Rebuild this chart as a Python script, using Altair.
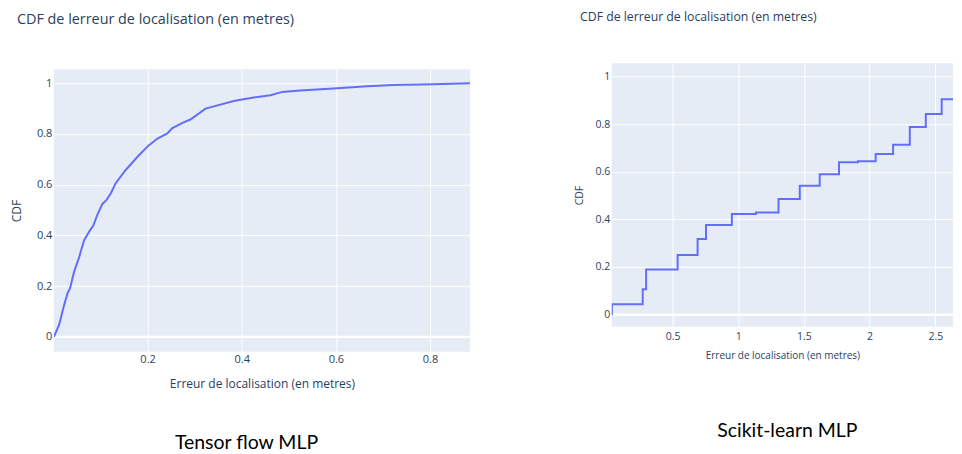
import altair as alt
import pandas as pd

# ---- data ----
tf_err = [0.001, 0.012, 0.022, 0.030, 0.035, 0.044, 0.054, 0.065, 0.076, 0.085,
          0.093, 0.104, 0.113, 0.122, 0.132, 0.153, 0.182, 0.203, 0.221, 0.242,
          0.252, 0.274, 0.291, 0.323, 0.341, 0.383, 0.425, 0.461, 0.486, 0.524,
          0.595, 0.666, 0.722, 0.807, 0.885]
tf_cdf = [0.0, 0.047, 0.12, 0.172, 0.19, 0.257, 0.31, 0.38, 0.415, 0.44,
          0.48, 0.524, 0.54, 0.566, 0.605, 0.657, 0.717, 0.756, 0.782, 0.802,
          0.822, 0.844, 0.857, 0.90, 0.909, 0.930, 0.944, 0.953, 0.966, 0.972,
          0.979, 0.988, 0.993, 0.996, 1.0]

sk_err = [0.036, 0.037, 0.272, 0.298, 0.538, 0.690, 0.754, 0.951, 1.134, 1.306,
          1.468, 1.620, 1.767, 1.911, 2.046, 2.179, 2.306, 2.428, 2.549, 2.671, 2.76]
sk_cdf = [0.0, 0.043, 0.106, 0.189, 0.25, 0.317, 0.376, 0.422, 0.429, 0.485,
          0.541, 0.590, 0.640, 0.644, 0.675, 0.714, 0.788, 0.843, 0.905, 0.941, 0.941]

tf_xticks = [0.2, 0.4, 0.6, 0.8]
sk_xticks = [0.5, 1, 1.5, 2, 2.5]
y_ticks = [0, 0.2, 0.4, 0.6, 0.8, 1]

captions = ["Tensor flow MLP", "Scikit-learn MLP"]
chart_title = "CDF de lerreur de localisation (en metres)"
x_title = "Erreur de localisation (en metres)"
y_title = "CDF"

FONT = "Open Sans"
CAP_FONT = "Lato"
TXT = "#2a3f5f"
LINE = "#636efa"
BG = "#E5ECF6"


def make_axis(values, label_size, title_size, label_pad, title_pad):
    return alt.Axis(values=values, format="~g", grid=True, gridColor="white",
                    gridWidth=1, domain=False, ticks=False, labelFont=FONT,
                    labelFontSize=label_size, labelColor=TXT, titleFont=FONT,
                    titleFontSize=title_size, titleColor=TXT,
                    titleFontWeight="normal", labelPadding=label_pad,
                    titlePadding=title_pad)


def title_params(size, off, dx):
    return alt.TitleParams(chart_title, anchor="start", font=FONT, fontSize=size,
                           color=TXT, fontWeight="normal", offset=off, dx=dx)


def panel(err, cdf, xdom, ydom, xticks, w, h, interp, caption, cap_x, cap_y,
          lab, xtit, ytit, xlp, xtp, ylp, ytp, cap_size):
    df = pd.DataFrame({"err": err, "cdf": cdf})
    xs = alt.Scale(domain=xdom, nice=False, zero=False)
    ys = alt.Scale(domain=ydom, nice=False, zero=False)
    zero = alt.Chart(pd.DataFrame({"cdf": [0]})).mark_rule(
        color="white", strokeWidth=2).encode(y=alt.Y("cdf:Q", scale=ys))
    line = alt.Chart(df).mark_line(color=LINE, strokeWidth=2,
                                   interpolate=interp, clip=True).encode(
        x=alt.X("err:Q", scale=xs, title=x_title,
                axis=make_axis(xticks, lab, xtit, xlp, xtp)),
        y=alt.Y("cdf:Q", scale=ys, title=y_title,
                axis=make_axis(y_ticks, lab, ytit, ylp, ytp)),
    )
    cap = alt.Chart(pd.DataFrame({"t": [caption]})).mark_text(
        font=CAP_FONT, fontSize=cap_size, color="black", align="center",
        baseline="middle").encode(text="t:N", x=alt.value(cap_x),
                                  y=alt.value(cap_y))
    return alt.layer(zero, line, cap).properties(width=w, height=h)


left_plot = panel(tf_err, tf_cdf, [0.001, 0.885], [-0.059, 1.055], tf_xticks,
                  417, 283, "linear", captions[0], 193, 374,
                  11, 12, 12, 2, 14, 2, 13, 19.5)

# thin blank strip carrying the left title, so that the left plot sits lower
left_head = alt.Chart(pd.DataFrame({"a": [0]})).mark_point(opacity=0).properties(
    width=417, height=6, title=title_params(14.4, 36.5, -37),
    view=alt.ViewBackground(fill="white", stroke="white", strokeWidth=0))

left = alt.vconcat(left_head, left_plot, spacing=0)

right = panel(sk_err, sk_cdf, [0.036, 2.635], [-0.052, 1.056], sk_xticks,
              342, 264, "step-after", captions[1], 176, 368,
              10.5, 10, 10.5, 5, 8, 2, 11, 19.5).properties(
    title=title_params(12.3, 40.2, 6))

chart = alt.hconcat(left, right, spacing=103).configure_view(
    fill=BG, stroke=None).properties(
    padding={"left": 2, "top": 2, "right": 0, "bottom": 0})

chart.save("out.html", embed_options={"renderer": "svg", "actions": False})
